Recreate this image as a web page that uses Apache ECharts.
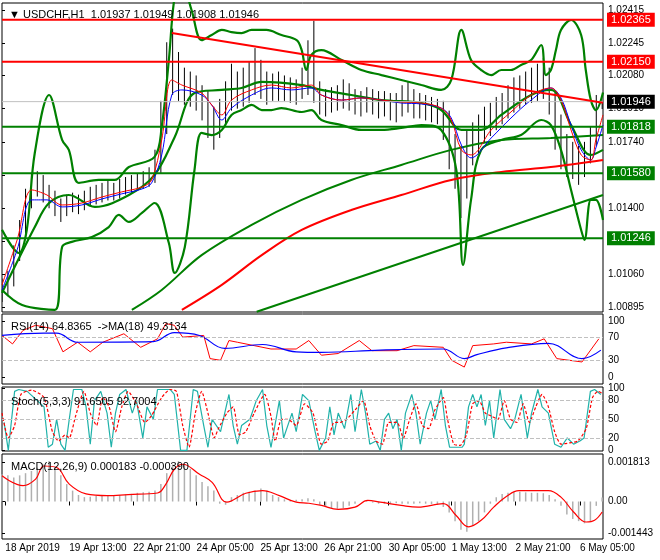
<!DOCTYPE html>
<html><head><meta charset="utf-8">
<script src="https://cdn.jsdelivr.net/npm/echarts@6/dist/echarts.min.js"></script>
<style>html,body{margin:0;padding:0;background:#fff}#c{width:660px;height:560px}</style>
</head><body><div id="c"></div>
<script>
// ---- data ----
const timeTicks=[8,160,312,463,615,767,920,1070,1222,1375];
const timeLabels=['18 Apr 2019','19 Apr 13:00','22 Apr 21:00','24 Apr 05:00','25 Apr 13:00','26 Apr 21:00','30 Apr 05:00','1 May 13:00','2 May 21:00','6 May 05:00'];
const barStep=14;
const closes=[1.0098,1.0103,1.0116,1.0129,1.0144,1.0152,1.0155,1.0149,1.0147,1.0142,1.0139,1.0142,1.0143,1.0142,1.0144,1.0147,1.0147,1.0148,1.0149,1.0148,1.0150,1.0152,1.0153,1.0153,1.0155,1.0156,1.0159,1.0180,1.0206,1.0213,1.0203,1.0201,1.0202,1.0198,1.0195,1.0188,1.0180,1.0185,1.0195,1.0198,1.0199,1.0201,1.0203,1.0207,1.0206,1.0201,1.0202,1.0203,1.0202,1.0201,1.0200,1.0203,1.0208,1.0201,1.0195,1.0194,1.0195,1.0196,1.0198,1.0197,1.0195,1.0194,1.0196,1.0195,1.0194,1.0194,1.0193,1.0191,1.0195,1.0196,1.0194,1.0193,1.0192,1.0191,1.0190,1.0188,1.0175,1.0165,1.0162,1.0170,1.0175,1.0180,1.0183,1.0186,1.0189,1.0191,1.0195,1.0198,1.0199,1.0201,1.0202,1.0203,1.0206,1.0198,1.0183,1.0172,1.0167,1.0164,1.0162,1.0164,1.0175,1.0193,1.01946];
const highs=[1.0104,1.0108,1.0121,1.0134,1.0150,1.0158,1.0159,1.0157,1.0152,1.0149,1.0145,1.0147,1.0148,1.0147,1.0149,1.0151,1.0152,1.0153,1.0154,1.0153,1.0155,1.0156,1.0157,1.0158,1.0159,1.0161,1.0170,1.0195,1.0225,1.0232,1.0220,1.0212,1.0210,1.0208,1.0203,1.0200,1.0192,1.0196,1.0205,1.0214,1.0210,1.0212,1.0215,1.0222,1.0216,1.0210,1.0209,1.0210,1.0208,1.0207,1.0206,1.0212,1.0226,1.0236,1.0205,1.0201,1.0202,1.0203,1.0206,1.0204,1.0201,1.0200,1.0202,1.0201,1.0200,1.0200,1.0199,1.0199,1.0203,1.0205,1.0201,1.0199,1.0198,1.0197,1.0196,1.0195,1.0190,1.0178,1.0172,1.0180,1.0184,1.0188,1.0192,1.0194,1.0197,1.0199,1.0203,1.0207,1.0208,1.0210,1.0212,1.0214,1.0217,1.0212,1.0200,1.0188,1.0178,1.0174,1.0172,1.0174,1.0182,1.0198,1.01949];
const lows=[1.0092,1.0095,1.0100,1.0113,1.0127,1.0140,1.0146,1.0143,1.0140,1.0136,1.0133,1.0136,1.0138,1.0137,1.0139,1.0141,1.0142,1.0143,1.0144,1.0144,1.0145,1.0147,1.0148,1.0149,1.0150,1.0151,1.0153,1.0158,1.0178,1.0198,1.0195,1.0193,1.0192,1.0190,1.0185,1.0176,1.0170,1.0176,1.0182,1.0190,1.0191,1.0192,1.0194,1.0198,1.0196,1.0193,1.0195,1.0195,1.0195,1.0194,1.0193,1.0196,1.0198,1.0194,1.0188,1.0187,1.0189,1.0190,1.0191,1.0190,1.0188,1.0187,1.0189,1.0188,1.0186,1.0187,1.0185,1.0184,1.0187,1.0189,1.0186,1.0186,1.0185,1.0184,1.0183,1.0175,1.0160,1.0150,1.0135,1.0145,1.0162,1.0168,1.0174,1.0177,1.0180,1.0183,1.0186,1.0189,1.0191,1.0193,1.0194,1.0195,1.0196,1.0188,1.0170,1.0160,1.0156,1.0155,1.0152,1.0156,1.0163,1.0172,1.01908];
const bbUpper=[[0,1.0129],[40,1.01171],[59,1.0129],[78,1.01683],[112,1.0198],[143,1.0175],[159,1.01699],[183,1.0153],[230,1.01545],[268,1.01545],[302,1.01611],[363,1.01663],[380,1.01816],[397,1.02159],[412,1.0250],[428,1.0255],[451,1.02415],[475,1.02261],[499,1.02287],[523,1.02313],[546,1.02302],[570,1.02297],[594,1.02313],[629,1.02313],[665,1.02287],[701,1.02261],[713,1.0221],[724,1.02108],[736,1.02185],[760,1.0221],[808,1.02159],[855,1.02108],[903,1.02082],[950,1.02057],[998,1.02031],[1045,1.02006],[1069,1.02057],[1093,1.02313],[1116,1.02159],[1140,1.02108],[1164,1.02082],[1188,1.02108],[1211,1.02108],[1235,1.02134],[1259,1.02159],[1283,1.02236],[1294,1.02082],[1306,1.02108],[1318,1.02210],[1330,1.02313],[1354,1.02364],[1378,1.02287],[1389,1.02108],[1401,1.01954],[1413,1.01903],[1430,1.01993]];
const bbMiddle=[[0,1.00967],[78,1.01304],[112,1.01427],[159,1.01468],[221,1.01407],[302,1.01468],[363,1.01571],[411,1.01765],[458,1.0199],[523,1.02006],[570,1.02016],[618,1.02047],[713,1.02031],[760,1.02006],[831,1.0198],[903,1.01954],[998,1.01939],[1045,1.01903],[1093,1.01801],[1140,1.01801],[1188,1.01878],[1259,1.0198],[1306,1.02006],[1354,1.01826],[1401,1.01673],[1430,1.01699]];
const bbLower=[[0,1.00982],[48,1.00905],[126,1.0088],[143,1.01202],[166,1.01228],[214,1.01253],[254,1.01304],[278,1.01366],[302,1.0133],[333,1.01376],[363,1.01427],[397,1.01222],[411,1.01069],[435,1.01202],[458,1.01596],[475,1.01786],[499,1.01775],[523,1.01801],[546,1.01878],[570,1.01903],[594,1.01929],[618,1.01903],[641,1.01903],[665,1.01913],[713,1.01893],[736,1.01903],[760,1.01852],[808,1.01826],[855,1.01801],[903,1.01801],[950,1.01811],[998,1.01826],[1045,1.01801],[1081,1.01596],[1097,1.0111],[1116,1.01443],[1140,1.01699],[1188,1.0175],[1235,1.01775],[1283,1.01852],[1306,1.01826],[1330,1.01699],[1354,1.01494],[1378,1.01289],[1386,1.01238],[1401,1.01443],[1413,1.01443],[1430,1.01340]];
const maFast=[[0,1.01008],[36,1.01238],[71,1.01494],[107,1.01468],[143,1.01417],[190,1.01427],[238,1.01458],[285,1.01484],[333,1.01509],[356,1.01545],[380,1.0175],[404,1.02057],[428,1.02031],[475,1.0199],[499,1.01929],[523,1.01878],[546,1.01954],[594,1.02006],[641,1.02031],[689,1.02016],[736,1.02031],[760,1.0198],[808,1.01954],[855,1.01965],[903,1.01954],[950,1.01944],[998,1.01939],[1045,1.01913],[1069,1.01852],[1093,1.01699],[1116,1.01673],[1164,1.01801],[1211,1.01893],[1259,1.0198],[1306,1.02016],[1330,1.01954],[1354,1.01801],[1378,1.01673],[1401,1.01647],[1413,1.0175],[1430,1.01878]];
const maSlow=[[0,1.00982],[36,1.01187],[71,1.01443],[107,1.01443],[143,1.01407],[190,1.01417],[238,1.01448],[285,1.01474],[333,1.01499],[356,1.0153],[380,1.01673],[404,1.0198],[428,1.02006],[475,1.0198],[499,1.01929],[523,1.01852],[546,1.01913],[594,1.0198],[641,1.02016],[689,1.02006],[736,1.02016],[760,1.0198],[808,1.01954],[855,1.01965],[903,1.01954],[950,1.01939],[998,1.01934],[1045,1.01913],[1069,1.01862],[1093,1.01724],[1116,1.01658],[1164,1.01760],[1211,1.01862],[1259,1.01954],[1306,1.02016],[1330,1.01965],[1354,1.01826],[1378,1.01699],[1401,1.01647],[1413,1.01709],[1430,1.01826]];
const maLongGreen=[[309,1.0088],[380,1.00982],[475,1.0116],[594,1.01315],[713,1.01443],[831,1.01545],[950,1.01622],[1069,1.01699],[1188,1.0175],[1306,1.0176],[1430,1.01775]];
const maLongRed=[[428,1.0088],[523,1.01008],[618,1.0116],[713,1.01289],[831,1.01391],[950,1.01468],[1069,1.01545],[1188,1.01586],[1306,1.01611],[1430,1.01647]];
const trendRed=[[404,1.02297],[1430,1.01940]];
const trendGreen=[[606,1.0087],[1430,1.01468]];
const levelValues=[1.02365,1.02150,1.01818,1.01580,1.01246];
const levelColors=['#ff0000','#ff0000','#008000','#008000','#008000'];
const lastPrice=1.01946;
const priceTicks=[1.02415,1.02245,1.0208,1.0191,1.0174,1.0157,1.014,1.0123,1.0106,1.00895];
const rsi=[[0,74],[25,59],[50,83],[80,92],[120,86],[145,45],[180,62],[210,45],[240,62],[290,77],[330,53],[370,68],[390,95],[410,92],[430,71],[480,74],[495,33],[520,30],[540,65],[560,62],[600,56],[640,50],[700,50],[730,65],[760,39],[800,42],[850,65],[880,47],[940,47],[980,56],[1050,53],[1070,30],[1100,18],[1120,56],[1170,59],[1200,62],[1260,59],[1290,68],[1320,33],[1380,27],[1420,68]];
const rsiMa=[[0,74],[100,78],[130,78],[180,62],[360,63],[410,79],[470,74],[530,51],[620,58],[700,45],[760,44],[900,48],[1050,50],[1100,33],[1130,40],[1200,52],[1300,60],[1380,33],[1425,48]];
const stochK=[[5,45],[15,0],[30,95],[40,98],[60,95],[100,70],[110,5],[120,10],[130,50],[140,10],[150,0],[160,50],[170,98],[190,98],[200,70],[210,10],[220,80],[235,95],[250,60],[260,5],[270,60],[280,90],[295,98],[310,60],[320,80],[335,20],[345,70],[360,50],[370,98],[400,98],[410,90],[425,0],[440,0],[455,98],[465,95],[480,40],[490,5],[500,50],[520,30],[540,90],[550,40],[560,10],[570,40],[590,50],[605,80],[620,98],[630,40],[640,5],[660,80],[670,20],[690,60],[700,30],[715,90],[730,80],[745,30],[755,0],[770,20],[780,70],[790,25],[800,60],[815,35],[830,90],[840,30],[855,98],[865,60],[875,10],[890,15],[900,0],[910,50],[920,60],[930,35],[940,50],[950,0],[960,60],[975,90],[985,60],[995,10],[1010,60],[1020,80],[1030,50],[1045,98],[1055,40],[1065,5],[1080,5],[1095,5],[1100,10],[1110,70],[1120,90],[1130,70],[1140,90],[1150,40],[1160,80],[1170,20],[1185,98],[1195,50],[1210,35],[1220,50],[1235,90],[1250,20],[1260,60],[1275,98],[1285,70],[1300,60],[1315,10],[1330,5],[1345,20],[1360,10],[1375,15],[1385,20],[1400,95],[1410,98],[1425,90]];
const stochD=[[0,60],[15,20],[30,40],[45,90],[70,97],[100,85],[120,30],[135,15],[150,25],[160,20],[175,55],[195,95],[210,60],[225,40],[240,85],[255,70],[270,30],[285,70],[300,95],[320,75],[340,45],[355,55],[380,85],[400,98],[415,95],[430,40],[445,5],[460,60],[475,95],[490,60],[505,20],[515,35],[535,60],[550,70],[565,25],[580,30],[600,60],[625,90],[640,55],[650,15],[665,50],[680,50],[700,40],[720,75],[740,60],[760,10],[775,15],[790,45],[805,45],[820,50],[840,65],[860,80],[875,40],[890,15],[905,10],[920,45],[940,45],[955,20],[970,50],[985,75],[1000,40],[1015,35],[1030,65],[1050,85],[1060,50],[1075,10],[1090,8],[1105,25],[1120,75],[1135,80],[1150,60],[1165,55],[1180,50],[1195,80],[1210,50],[1225,45],[1240,75],[1255,45],[1270,70],[1285,90],[1300,70],[1315,30],[1330,10],[1350,12],[1370,15],[1390,35],[1405,85],[1418,95],[1428,92]];
const macdHist=[0.00125,0.0012,0.0011,0.0012,0.0013,0.0014,0.00155,0.0017,0.00186,0.0016,0.0012,0.0008,0.0005,0.0003,0.0002,0.00022,0.00025,0.00027,0.00027,0.0003,0.0003,0.00033,0.00035,0.0004,0.00042,0.00045,0.0005,0.0008,0.0013,0.0017,0.00186,0.0017,0.0015,0.0012,0.0009,0.0007,0.0005,-0.0001,-0.00015,0.0002,0.0003,0.0004,0.00045,0.0005,0.0006,0.0005,0.0003,0.0002,0.0001,0.00005,0.00008,0.0001,0.00015,0.0001,-0.00015,-0.00025,-0.0003,-0.00033,-0.0003,-0.0002,-0.0001,0,0.00005,-0.00005,-0.0001,-0.0001,-0.0001,-0.00008,-0.0001,-0.0001,-0.0001,-0.00008,-0.0001,-0.00012,-0.00015,-0.00025,-0.0005,-0.0009,-0.0013,-0.00139,-0.0011,-0.0009,-0.0005,-0.0001,0.0002,0.00035,0.0004,0.00045,0.00045,0.00042,0.0004,0.0004,0.00038,0.0003,0.0001,-0.0002,-0.0006,-0.0008,-0.0009,-0.001,-0.0009,-0.0002,0.00018];
const macdSignal=[[0,0.00118],[50,0.00073],[80,0.00103],[100,0.00163],[130,0.00156],[160,0.0008],[200,0.00035],[250,0.00027],[300,0.00032],[370,0.00039],[390,0.0008],[410,0.00148],[430,0.00171],[470,0.00125],[500,0.00088],[535,-0.00003],[580,0.00038],[620,0.0005],[660,0.00027],[700,-0.00003],[730,-0.00008],[760,-0.00018],[800,-0.00036],[840,-0.00026],[870,0.00005],[900,-0.00003],[950,-0.00018],[990,-0.00026],[1050,-0.0001],[1080,-0.00063],[1110,-0.00116],[1140,-0.00086],[1170,-0.00026],[1200,0.00023],[1230,0.0005],[1300,0.0005],[1330,0.0002],[1360,-0.00048],[1390,-0.00094],[1410,-0.00086],[1428,-0.00048]];

// ---- chart ----
const F='Liberation Sans';
const X0=0,X1=1430;
const grids=[{left:2,right:57,top:3,height:309},{left:2,right:57,top:314,height:70},{left:2,right:57,top:387,height:64},{left:2,right:57,top:454,height:85}];
function xa(i,show){return {type:'value',gridIndex:i,min:X0,max:X1,splitLine:{show:false},axisLine:{show:false},
 axisTick:{show:show,customValues:timeTicks,length:4,lineStyle:{color:'#000'}},
 axisLabel:{show:show,customValues:timeTicks,color:'#000',fontFamily:F,fontSize:10,margin:4,align:'left',
  formatter:v=>{const k=timeTicks.indexOf(v);return k>=0?timeLabels[k]:''}}};}
function ya(i,min,max,ticks,fmt){return {type:'value',gridIndex:i,position:'right',min:min,max:max,splitLine:{show:false},
 axisLine:{show:false},axisTick:{show:true,inside:false,length:3,customValues:ticks,lineStyle:{color:'#000'}},
 axisLabel:{customValues:ticks,color:'#000',fontFamily:F,fontSize:10,margin:5,formatter:fmt}};}
const line=(name,data,color,w,xi,extra)=>Object.assign({type:'line',name,data,xAxisIndex:xi,yAxisIndex:xi,symbol:'none',smooth:0.35,lineStyle:{color,width:w},silent:true,animation:false},extra||{});
const tag=(bg)=>({show:true,formatter:p=>p.value[1].toFixed(5),backgroundColor:bg,color:'#fff',padding:[2,4,1,4],fontFamily:F,fontSize:11,distance:4});
const hline=(v,color,w,lbl)=>line('lvl',[[X0,v],[X1,v]],color,w,0,{smooth:false,z:3,endLabel:lbl});

const levelSeries=levelValues.map((v,i)=>hline(v,levelColors[i],2,tag(levelColors[i])));
levelSeries.push(hline(lastPrice,'#c0c0c0',1,tag('#000')));
levelSeries.push(line('trendRed',trendRed,'#ff0000',2,0,{smooth:false}));
levelSeries.push(line('trendGreen',trendGreen,'#008000',2,0,{smooth:false}));

const bars=closes.map((c,i)=>[i*barStep,lows[i],highs[i]]);
const tst={fontFamily:F,fontSize:11,fontWeight:'normal',color:'#000'};
const option={
 backgroundColor:'#fff',animation:false,
 grid:grids.map(g=>Object.assign({show:true,borderColor:'#000',borderWidth:1,backgroundColor:'#fff'},g)),
 title:[
  {text:'▼ USDCHF,H1  1.01937 1.01949 1.01908 1.01946',left:4,top:4,textStyle:tst},
  {text:'RSI(14) 64.8365  ->MA(18) 49.3134',left:6,top:316,textStyle:tst},
  {text:'Stoch(5,3,3) 91.6505 92.7004',left:6,top:391,textStyle:tst},
  {text:'MACD(12,26,9) 0.000183 -0.000390',left:6,top:456,textStyle:tst}],
 xAxis:[xa(0,false),xa(1,false),xa(2,false),xa(3,true)],
 yAxis:[ya(0,1.00869,1.02451,priceTicks,v=>v.toFixed(5)),
  ya(1,-12,112,[100,70,30,0],v=>String(v)),
  ya(2,-1,102,[100,80,50,20,0],v=>String(v)),
  ya(3,-0.00172,0.00218,[0.001813,0,-0.001443],v=>v===0?'0.00':v.toFixed(6))],
 series:[
  line('upper',bbUpper,'#008000',2.2,0),
  line('middle',bbMiddle,'#008000',2.2,0),
  line('lower',bbLower,'#008000',2.2,0),
  line('maLongGreen',maLongGreen,'#008000',2,0),
  line('maLongRed',maLongRed,'#ff0000',2,0),
  {type:'custom',xAxisIndex:0,yAxisIndex:0,data:bars,silent:true,animation:false,clip:true,
   renderItem:(p,api)=>{const a=api.coord([api.value(0),api.value(1)]),b=api.coord([api.value(0),api.value(2)]);
    return {type:'line',shape:{x1:a[0],y1:a[1],x2:b[0],y2:b[1]},style:{stroke:'#000',lineWidth:1}};}},
  line('maSlow',maSlow,'#0000ff',1,0),
  line('maFast',maFast,'#ff0000',1,0),
  ...levelSeries,
  line('rsi',rsi,'#ff0000',1,1,{smooth:false,markLine:{symbol:'none',silent:true,label:{show:false},
   data:[{yAxis:70},{yAxis:30}],lineStyle:{color:'#c0c0c0',type:'dashed',width:1}}}),
  line('rsiMa',rsiMa,'#0000ff',1.2,1,{smooth:0.4}),
  line('k',stochK,'#20b2aa',1.2,2,{smooth:false,markLine:{symbol:'none',silent:true,label:{show:false},
   data:[{yAxis:80},{yAxis:50},{yAxis:20}],lineStyle:{color:'#c0c0c0',type:'dashed',width:1}}}),
  line('d',stochD,'#ff0000',1.2,2,{smooth:0.2,lineStyle:{color:'#ff0000',width:1.2,type:[3,2]}}),
  {type:'bar',xAxisIndex:3,yAxisIndex:3,data:macdHist.map((v,i)=>[i*barStep,v]),barWidth:1.5,itemStyle:{color:'#b0b0b0'},silent:true,animation:false},
  line('signal',macdSignal,'#ff0000',1.2,3,{smooth:0.4})
 ]};
echarts.init(document.getElementById('c'),null,{renderer:'canvas'}).setOption(option);
</script></body></html>
